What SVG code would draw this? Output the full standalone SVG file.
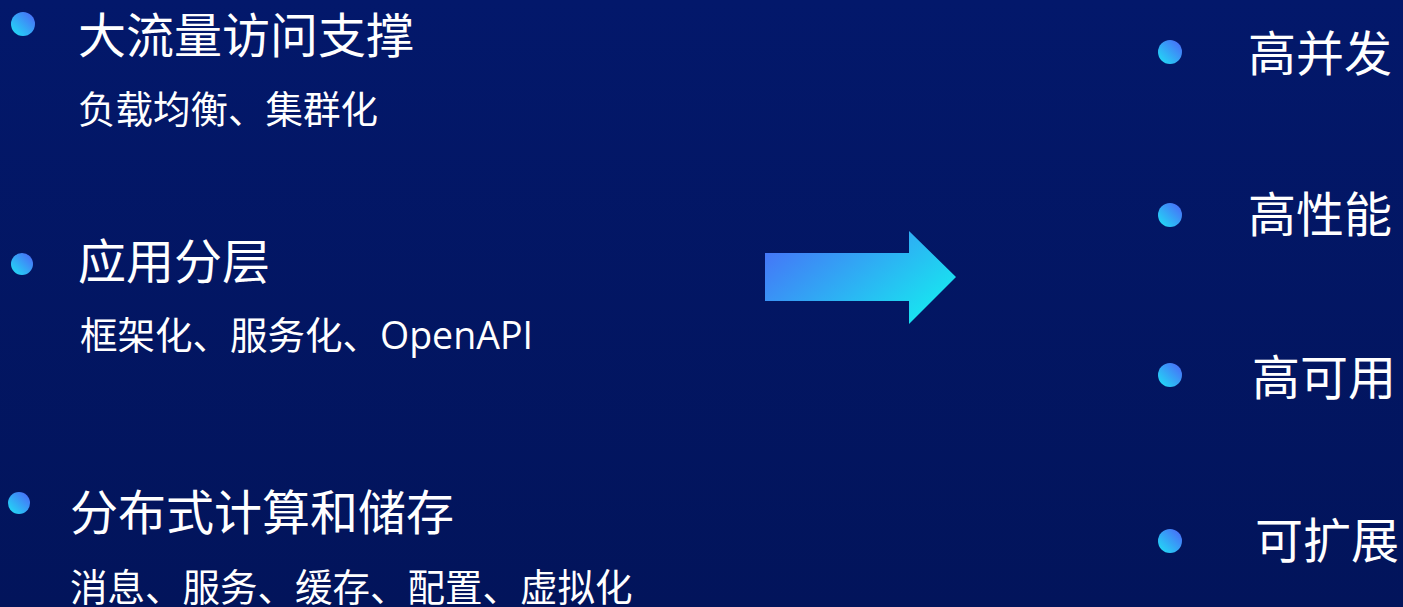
<svg xmlns="http://www.w3.org/2000/svg" width="1403" height="607" viewBox="0 0 1403 607">
<defs>
<linearGradient id="bg" x1="0" y1="0" x2="0" y2="1">
<stop offset="0" stop-color="#03186b"/>
<stop offset="1" stop-color="#02145b"/>
</linearGradient>
<linearGradient id="dot" x1="0" y1="1" x2="1" y2="0">
<stop offset="0" stop-color="#1ee3f5"/>
<stop offset="1" stop-color="#4d63f8"/>
</linearGradient>
<linearGradient id="arr" x1="0" y1="0" x2="1" y2="0.6">
<stop offset="0" stop-color="#4a6af8"/>
<stop offset="1" stop-color="#19e2f0"/>
</linearGradient>
<style>
.t{font-family:"Noto Sans CJK SC","Noto Sans",sans-serif;fill:#ffffff}
.h{font-size:48px}
.s{font-size:37.5px}
.l{font-family:"Open Sans","Noto Sans",sans-serif}
.b{fill:url(#dot)}
</style>
</defs>
<rect width="1403" height="607" fill="url(#bg)"/>
<g id="item1">
<circle class="b" cx="23" cy="24" r="12"/>
<text class="t h" x="78" y="53">大流量访问支撑</text>
<text class="t s" x="78" y="123">负载均衡、集群化</text>
</g>
<g id="item2">
<circle class="b" cx="22" cy="264" r="11"/>
<text class="t h" x="78" y="279">应用分层</text>
<text class="t s" x="80" y="349">框架化、服务化、<tspan class="l">OpenAPI</tspan></text>
</g>
<g id="item3">
<circle class="b" cx="19" cy="503" r="11"/>
<text class="t h" x="70" y="530">分布式计算和储存</text>
<text class="t s" x="70" y="601">消息、服务、缓存、配置、虚拟化</text>
</g>
<g id="connectors">
<polygon points="765,253 909,253 909,231 956,277 909,324 909,301 765,301" fill="url(#arr)"/>
</g>
<g id="r1">
<circle class="b" cx="1170" cy="52" r="12"/>
<text class="t h" x="1248" y="71">高并发</text>
</g>
<g id="r2">
<circle class="b" cx="1170" cy="215" r="12"/>
<text class="t h" x="1248" y="232">高性能</text>
</g>
<g id="r3">
<circle class="b" cx="1170" cy="375" r="12"/>
<text class="t h" x="1252" y="395">高可用</text>
</g>
<g id="r4">
<circle class="b" cx="1170" cy="541" r="12"/>
<text class="t h" x="1255" y="558">可扩展</text>
</g>
</svg>
